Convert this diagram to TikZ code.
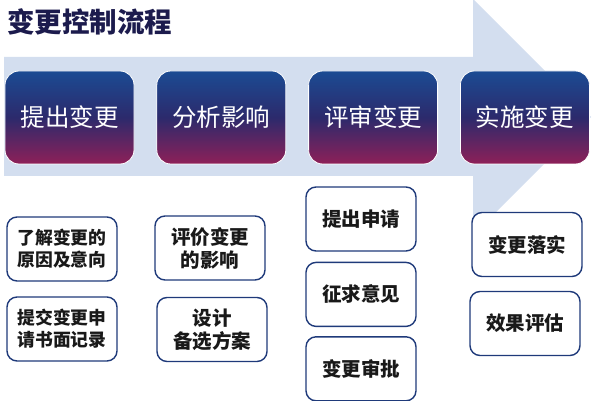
\documentclass[tikz,border=0pt]{standalone}
\usepackage{fontspec}
\newfontfamily\cjk{Noto Sans CJK SC}
\usetikzlibrary{positioning}
\definecolor{flowbg}{HTML}{D3DEEF}
\definecolor{steptop}{HTML}{1B4B93}
\definecolor{stepmid}{HTML}{2C2A6C}
\definecolor{stepbot}{HTML}{8E2058}
\definecolor{taskline}{HTML}{1F3A7A}
\definecolor{titlenavy}{HTML}{1C1B4D}

\begin{document}
\begin{tikzpicture}[
    x=1pt, y=-1pt,
    node distance=22pt,
    stage/.style={rectangle, rounded corners=14pt, draw=white, line width=0.8pt, minimum width=129pt, minimum height=93pt, top color=steptop, bottom color=stepbot, middle color=stepmid, text=white, font=\cjk\fontsize{24.5}{28}\selectfont, inner sep=0pt},
    task/.style={rectangle, rounded corners=10pt, draw=taskline, line width=1.4pt, fill=white, minimum width=110pt, minimum height=64pt, align=center, font=\cjk\bfseries\fontsize{19.5}{23}\selectfont, text=black!90, inner sep=0pt},
    longtask/.style={task, font=\cjk\bfseries\fontsize{17.8}{22}\selectfont}
]
\useasboundingbox (0,0) rectangle (592,401);

% Background arrow
\fill[flowbg] (4,57) -- (473,57) -- (473,-1) -- (591,117) -- (473,235) -- (473,176) -- (4,176) -- cycle;

% Title
\node (title) [anchor=west, inner sep=0pt, text=titlenavy, font=\cjk\bfseries\fontsize{27.5}{30}\selectfont] at (7,21.5) {变更控制流程};

% Stages
\node (propose) [stage] at (69.5,117.5) {提出变更};
\node (analyse) [stage, right=of propose] {分析影响};
\node (review) [stage, right=of analyse] {评审变更};
\node (apply) [stage, right=of review] {实施变更};

% Tasks
\node (reason) [longtask] at (62,249) {了解变更的\\原因及意向};
\node (record) [longtask] at (62,329) {提交变更申\\请书面记录};
\node (impact) [task] at (210,248) {评价变更\\的影响};
\node (option) [task] at (212,329.5) {设计\\备选方案};
\node (request) [task] at (361,219) {提出申请};
\node (opinion) [task, below=10pt of request] {征求意见};
\node (approve) [task, below=9pt of opinion] {变更审批};
\node (deploy) [task] at (527,244.5) {变更落实};
\node (assess) [task] at (525,323.5) {效果评估};

\end{tikzpicture}
\end{document}
